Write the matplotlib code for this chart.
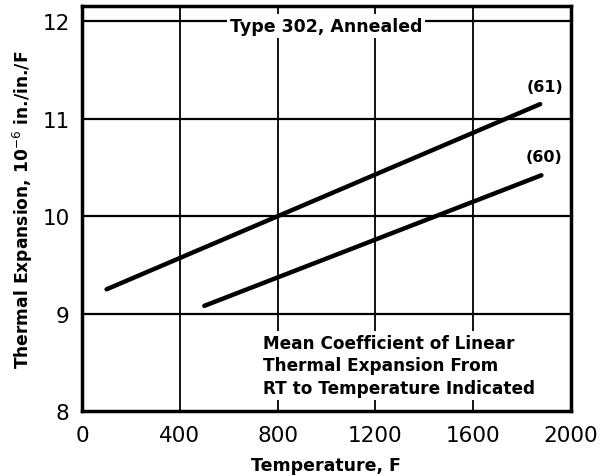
import matplotlib.pyplot as plt

# data (temperature F, mean CTE 10^-6 in./in./F)
temp_61 = [100, 1875]
cte_61 = [9.25, 11.15]
temp_60 = [500, 1880]
cte_60 = [9.08, 10.42]

x_ticks = [0, 400, 800, 1200, 1600, 2000]
x_labels = ["0", "400", "800", "1200", "1600", "2000"]
y_ticks = [8, 9, 10, 11, 12]
y_labels = ["8", "9", "10", "11", "12"]

plt.rcParams['font.family'] = ['DejaVu Sans']

fig = plt.figure(figsize=(6.13, 4.77), dpi=100)
ax = fig.add_axes([0.134, 0.136, 0.797, 0.85])

ax.set_xlim(0, 2000)
ax.set_ylim(8, 12.16)

# grid
for x in x_ticks[1:-1]:
    ax.axvline(x, color='black', lw=1.3, zorder=1)
for y in y_ticks[1:]:
    ax.axhline(y, color='black', lw=1.6, zorder=1)

ax.plot(temp_61, cte_61, color='black', lw=3.2, solid_capstyle='round', zorder=3)
ax.plot(temp_60, cte_60, color='black', lw=3.2, solid_capstyle='round', zorder=3)

ax.text(1895, 11.33, "(61)", ha='center', va='center', fontsize=11.5, fontweight='bold')
ax.text(1890, 10.61, "(60)", ha='center', va='center', fontsize=11.5, fontweight='bold')

ax.text(1000, 11.95, "Type 302, Annealed", ha='center', va='center', fontsize=12.5,
        fontweight='bold', bbox=dict(facecolor='white', edgecolor='none', pad=2), zorder=4)

ax.text(740, 8.47, "Mean Coefficient of Linear\nThermal Expansion From\nRT to Temperature Indicated",
        ha='left', va='center', fontsize=12.2, fontweight='bold', linespacing=1.32,
        bbox=dict(facecolor='white', edgecolor='none', pad=2), zorder=4)

ax.set_xticks(x_ticks)
ax.set_xticklabels(x_labels, fontsize=15.5)
ax.set_yticks(y_ticks)
ax.set_yticklabels(y_labels, fontsize=15.5)
ax.tick_params(axis='x', length=0, pad=10)
ax.tick_params(axis='y', length=0, pad=9)

for s in ax.spines.values():
    s.set_linewidth(2.5)

ax.set_xlabel("Temperature, F", fontsize=12.5, fontweight='bold', labelpad=8)
ax.set_ylabel("Thermal Expansion, 10$^{-6}$ in./in./F", fontsize=12.3, fontweight='bold', labelpad=5)

fig.savefig("out.png", dpi=100)
